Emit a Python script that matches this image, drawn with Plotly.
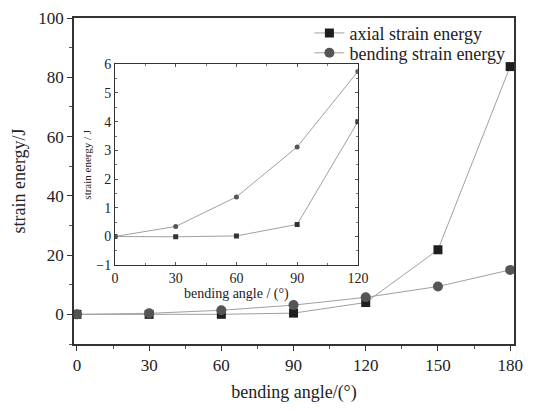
import plotly.graph_objects as go

angles = [0, 30, 60, 90, 120, 150, 180]
axial = [0, 0, 0.02, 0.42, 4.0, 21.8, 83.6]
bending = [0, 0.35, 1.38, 3.12, 5.75, 9.4, 15.0]

inset_angles = [0, 30, 60, 90, 120]
inset_axial = [0, -0.01, 0.02, 0.42, 4.0]
inset_bending = [0, 0.35, 1.38, 3.12, 5.75]

FONT = "Liberation Serif, Times New Roman, serif"
LINE = "#a0a0a0"

fig = go.Figure()
fig.add_trace(go.Scatter(x=angles, y=axial, mode="lines+markers", name="axial strain energy",
                         line=dict(color=LINE, width=1), legend="legend",
                         marker=dict(symbol="square", size=9, color="#1e1e1e")))
fig.add_trace(go.Scatter(x=angles, y=bending, mode="lines+markers", name="bending strain energy",
                         line=dict(color=LINE, width=1), legend="legend2",
                         marker=dict(symbol="circle", size=10, color="#555555")))
fig.add_trace(go.Scatter(x=inset_angles, y=inset_axial, mode="lines+markers", showlegend=False,
                         xaxis="x2", yaxis="y2",
                         line=dict(color=LINE, width=1),
                         marker=dict(symbol="square", size=5, color="#333333")))
fig.add_trace(go.Scatter(x=inset_angles, y=inset_bending, mode="lines+markers", showlegend=False,
                         xaxis="x2", yaxis="y2",
                         line=dict(color=LINE, width=1),
                         marker=dict(symbol="circle", size=5, color="#555555")))

legend_style = dict(xanchor="left", yanchor="top", bgcolor="rgba(255,255,255,0)", borderwidth=0,
                    font=dict(size=18, family=FONT), itemwidth=30)

fig.update_layout(
    width=518, height=395,
    margin=dict(l=66, r=1, t=9, b=55),
    paper_bgcolor="white", plot_bgcolor="white",
    font=dict(family=FONT, color="#222", size=17),
    xaxis=dict(range=[-1.22, 181.6], tickvals=[0, 30, 60, 90, 120, 150, 180],
               ticklabeloverflow="allow",
               showgrid=False, zeroline=False, showline=True, linecolor="#333", linewidth=1.5,
               mirror=True, ticks="outside", ticklen=5, tickcolor="#333",
               minor=dict(dtick=15, ticks="outside", ticklen=3, tickcolor="#555"),
               title=dict(text="bending angle/(°)", font=dict(size=18), standoff=14),
               tickfont=dict(size=17)),
    yaxis=dict(range=[-10, 100], tickvals=[0, 20, 40, 60, 80, 100],
               ticklabeloverflow="allow",
               showgrid=False, zeroline=False, showline=True, linecolor="#333", linewidth=1.5,
               mirror=True, ticks="outside", ticklen=5, tickcolor="#333",
               minor=dict(dtick=10, ticks="outside", ticklen=3, tickcolor="#555"),
               title=dict(text="strain energy/J", font=dict(size=18), standoff=8),
               tickfont=dict(size=17)),
    xaxis2=dict(domain=[0.0931, 0.6452], anchor="y2", range=[0, 120],
                tickvals=[0, 30, 60, 90, 120], ticklabeloverflow="allow",
                showgrid=False, zeroline=False, showline=True, linecolor="#333", linewidth=1,
                mirror="ticks", ticks="inside", ticklen=3, tickcolor="#555",
                minor=dict(dtick=15, ticks="inside", ticklen=2, tickcolor="#777"),
                title=dict(text="bending angle / (°)", font=dict(size=14), standoff=2),
                tickfont=dict(size=14)),
    yaxis2=dict(domain=[0.2417, 0.858], anchor="x2", range=[-1, 6],
                tickvals=[-1, 0, 1, 2, 3, 4, 5, 6], ticklabeloverflow="allow",
                showgrid=False, zeroline=False, showline=True, linecolor="#333", linewidth=1,
                mirror="ticks", ticks="inside", ticklen=3, tickcolor="#555",
                minor=dict(dtick=0.5, ticks="inside", ticklen=2, tickcolor="#777"),
                title=dict(text="strain energy / J", font=dict(size=11), standoff=2),
                tickfont=dict(size=14)),
    legend=dict(x=0.535, y=1.010, **legend_style),
    legend2=dict(x=0.535, y=0.949, **legend_style),
)

fig.write_html("out.html", config={"displayModeBar": False})
